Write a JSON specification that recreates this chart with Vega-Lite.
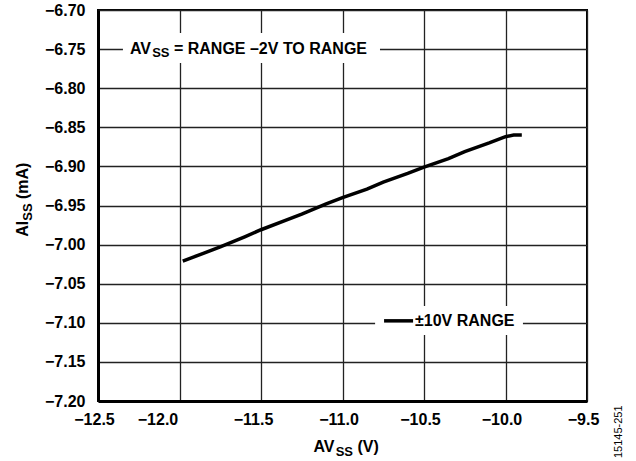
{
  "$schema": "https://vega.github.io/schema/vega-lite/v6.json",
  "width": 489,
  "height": 391,
  "autosize": "none",
  "padding": {"left": 98, "top": 10, "right": 49, "bottom": 60},
  "background": "white",
  "config": {
    "view": {"stroke": "black", "strokeWidth": 2},
    "font": "Liberation Sans",
    "axis": {
      "labelFont": "Liberation Sans",
      "labelFontSize": 16,
      "labelFontWeight": "bold",
      "labelColor": "black",
      "labelFlush": false,
      "labelOverlap": false,
      "ticks": false,
      "grid": true,
      "gridColor": "#222222",
      "gridWidth": 1.3,
      "domainColor": "black",
      "domainWidth": 3,
      "title": null
    }
  },
  "layer": [
    {
      "data": {"values": [
        {"AVSS": -11.98, "AISS": -7.021},
        {"AVSS": -11.85, "AISS": -7.011},
        {"AVSS": -11.75, "AISS": -7.003},
        {"AVSS": -11.6, "AISS": -6.990},
        {"AVSS": -11.5, "AISS": -6.981},
        {"AVSS": -11.35, "AISS": -6.969},
        {"AVSS": -11.25, "AISS": -6.961},
        {"AVSS": -11.1, "AISS": -6.948},
        {"AVSS": -11.0, "AISS": -6.940},
        {"AVSS": -10.85, "AISS": -6.929},
        {"AVSS": -10.75, "AISS": -6.920},
        {"AVSS": -10.6, "AISS": -6.909},
        {"AVSS": -10.5, "AISS": -6.901},
        {"AVSS": -10.35, "AISS": -6.890},
        {"AVSS": -10.25, "AISS": -6.881},
        {"AVSS": -10.1, "AISS": -6.870},
        {"AVSS": -10.0, "AISS": -6.862},
        {"AVSS": -9.95, "AISS": -6.860},
        {"AVSS": -9.9, "AISS": -6.860}
      ]},
      "mark": {"type": "line", "color": "black", "strokeWidth": 3.5, "clip": true},
      "encoding": {
        "x": {
          "field": "AVSS", "type": "quantitative",
          "scale": {"domain": [-12.5, -9.5], "nice": false, "zero": false},
          "axis": {
            "values": [-12.5, -12, -11.5, -11, -10.5, -10, -9.5],
            "format": ".1f",
            "labelPadding": 10,
            "labelOffset": {"expr": "datum.value == -12 ? -22 : datum.value == -11.5 ? -8 : -4"}
          }
        },
        "y": {
          "field": "AISS", "type": "quantitative",
          "scale": {"domain": [-7.2, -6.7], "nice": false, "zero": false},
          "axis": {
            "values": [-7.2, -7.15, -7.1, -7.05, -7, -6.95, -6.9, -6.85, -6.8, -6.75, -6.7],
            "tickCount": 11,
            "format": ".2f",
            "labelPadding": 13
          }
        }
      }
    },
    {
      "data": {"values": [{}]},
      "mark": {"type": "rect", "fill": "white"},
      "encoding": {
        "x": {"datum": -12.347}, "x2": {"datum": -10.77},
        "y": {"datum": -6.7294}, "y2": {"datum": -6.7678}
      }
    },
    {
      "data": {"values": [{}]},
      "mark": {"type": "rect", "fill": "white"},
      "encoding": {
        "x": {"datum": -10.80}, "x2": {"datum": -9.893},
        "y": {"datum": -7.0785}, "y2": {"datum": -7.1156}
      }
    },
    {
      "data": {"values": [{}]},
      "mark": {"type": "rule", "color": "black", "strokeWidth": 3.5},
      "encoding": {
        "x": {"datum": -10.745}, "x2": {"datum": -10.567},
        "y": {"datum": -7.0975}
      }
    },
    {
      "data": {"values": [{}]},
      "mark": {"type": "text", "text": "±10V RANGE", "align": "left", "baseline": "alphabetic", "dy": 3.5, "font": "Liberation Sans", "fontSize": 16, "fontWeight": "bold", "color": "black"},
      "encoding": {"x": {"datum": -10.555}, "y": {"datum": -7.1}}
    },
    {
      "data": {"values": [{}]},
      "mark": {"type": "text", "text": "AV", "align": "left", "baseline": "alphabetic", "dy": 4.5, "font": "Liberation Sans", "fontSize": 16, "fontWeight": "bold", "color": "black"},
      "encoding": {"x": {"datum": -12.304}, "y": {"datum": -6.75}}
    },
    {
      "data": {"values": [{}]},
      "mark": {"type": "text", "text": "SS", "align": "left", "baseline": "alphabetic", "dx": 22.2, "dy": 8, "font": "Liberation Sans", "fontSize": 13, "fontWeight": "bold", "color": "black"},
      "encoding": {"x": {"datum": -12.304}, "y": {"datum": -6.75}}
    },
    {
      "data": {"values": [{}]},
      "mark": {"type": "text", "text": "= RANGE –2V TO RANGE", "align": "left", "baseline": "alphabetic", "dx": 44, "dy": 4.5, "font": "Liberation Sans", "fontSize": 16, "fontWeight": "bold", "color": "black"},
      "encoding": {"x": {"datum": -12.304}, "y": {"datum": -6.75}}
    },
    {
      "data": {"values": [{}]},
      "mark": {"type": "text", "text": "AV", "align": "left", "baseline": "alphabetic", "dx": -29, "dy": 51, "font": "Liberation Sans", "fontSize": 16, "fontWeight": "bold", "color": "black"},
      "encoding": {"x": {"datum": -11.0}, "y": {"datum": -7.2}}
    },
    {
      "data": {"values": [{}]},
      "mark": {"type": "text", "text": "SS", "align": "left", "baseline": "alphabetic", "dx": -6.8, "dy": 54.5, "font": "Liberation Sans", "fontSize": 13, "fontWeight": "bold", "color": "black"},
      "encoding": {"x": {"datum": -11.0}, "y": {"datum": -7.2}}
    },
    {
      "data": {"values": [{}]},
      "mark": {"type": "text", "text": "(V)", "align": "left", "baseline": "alphabetic", "dx": 15, "dy": 51, "font": "Liberation Sans", "fontSize": 16, "fontWeight": "bold", "color": "black"},
      "encoding": {"x": {"datum": -11.0}, "y": {"datum": -7.2}}
    },
    {
      "data": {"values": [{}]},
      "mark": {"type": "text", "text": "AI", "angle": 270, "align": "left", "baseline": "alphabetic", "dx": 0, "dy": -70, "font": "Liberation Sans", "fontSize": 16, "fontWeight": "bold", "color": "black"},
      "encoding": {"x": {"datum": -12.5}, "y": {"datum": -6.99}}
    },
    {
      "data": {"values": [{}]},
      "mark": {"type": "text", "text": "SS", "angle": 270, "align": "left", "baseline": "alphabetic", "dx": 16, "dy": -66.5, "font": "Liberation Sans", "fontSize": 13, "fontWeight": "bold", "color": "black"},
      "encoding": {"x": {"datum": -12.5}, "y": {"datum": -6.99}}
    },
    {
      "data": {"values": [{}]},
      "mark": {"type": "text", "text": "(mA)", "angle": 270, "align": "left", "baseline": "alphabetic", "dx": 37.7, "dy": -70, "font": "Liberation Sans", "fontSize": 16, "fontWeight": "bold", "color": "black"},
      "encoding": {"x": {"datum": -12.5}, "y": {"datum": -6.99}}
    },
    {
      "data": {"values": [{}]},
      "mark": {"type": "text", "text": "15145-251", "angle": 270, "align": "left", "baseline": "alphabetic", "dx": -57, "dy": 35, "font": "Liberation Sans", "fontSize": 11, "color": "black"},
      "encoding": {"x": {"datum": -9.5}, "y": {"datum": -7.2}}
    }
  ]
}
